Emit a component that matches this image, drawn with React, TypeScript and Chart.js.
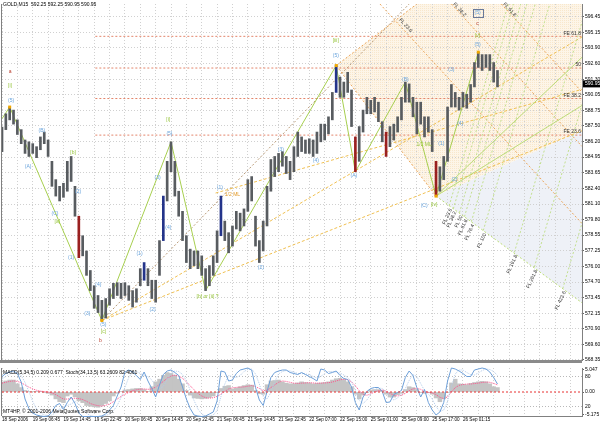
import React, { useEffect, useRef } from 'react';
import { Chart, registerables } from 'chart.js';

Chart.register(...registerables);

// ---------- text ----------
const TITLE = 'GOLD,M15  592.25 592.25 590.95 590.95';
const IND_TITLE = 'MACD(5,34,5) 0.209 0.677  Stoch(34,13,5) 63.2609 82.4061';
const COPYRIGHT = 'MT4HP, \u00A9 2001-2006 MetaQuotes Software Corp.';

// ---------- axes ----------
const X_TICK_LABELS = ['18 Sep 2006', '19 Sep 06:45', '19 Sep 14:45', '19 Sep 22:45', '20 Sep 06:45', '20 Sep 14:45', '20 Sep 22:45', '21 Sep 06:45', '21 Sep 14:45', '21 Sep 22:45', '22 Sep 07:00', '22 Sep 15:00', '25 Sep 01:00', '25 Sep 09:00', '25 Sep 17:00', '26 Sep 01:15'];
const Y_TICKS = [596.45, 595.15, 593.9, 592.6, 591.3, 590.05, 588.75, 587.5, 586.2, 584.95, 583.65, 582.4, 581.1, 579.8, 578.55, 577.25, 576.0, 574.7, 573.45, 572.15, 570.9, 569.6, 568.35];
const MACD_TICKS = [5.047, 0, -5.175];
const STOCH_LEVELS = [80, 20];
const SLOT_COUNT = 152;
const PRICE_MIN = 568.31;
const PRICE_MAX = 597.5;
const LAST_PRICE = 590.95;

// ---------- hourly price ranges (GOLD M15, read per hour) ----------
const BAR_LOW = [
  585.4, 587.2, 588.0, 587.65, 586.8, 586.05, 585.25, 585.0, 585.25, 584.9,
  585.55, 586.05, 585.0, 582.55, 581.75, 581.35, 581.65, 582.15, 582.95, 580.1,
  576.7, 576.85, 575.25, 574.0, 572.55, 572.2, 571.55, 571.75, 572.8, 573.35,
  573.6, 573.35, 573.6, 573.2, 572.65, 573.05, 574.4, 574.85, 574.4, 573.35,
  573.05, 575.25, 578.1, 581.35, 583.75, 581.75, 580.1, 578.1, 576.3, 575.8,
  576.05, 575.8, 575.25, 574.0, 574.4, 575.25, 576.3, 578.5, 578.1, 577.1,
  577.65, 579.05, 578.9, 579.3, 580.5, 581.35, 577.65, 576.3, 577.25, 579.3,
  582.15, 583.35, 583.75, 584.2, 583.6, 583.1, 583.75, 585.0, 585.4, 585.25,
  585.25, 585.0, 585.25, 586.2, 586.35, 586.85, 588.0, 590.25, 589.85, 589.85,
  590.25, 587.45, 583.75, 584.6, 587.0, 588.5, 588.5, 588.65, 587.85, 586.2,
  585.0, 585.8, 586.35, 587.0, 588.0, 589.45, 589.45, 588.25, 586.85, 587.65,
  586.6, 587.0, 585.4, 581.75, 582.15, 583.1, 584.6, 589.05, 589.05, 588.8,
  589.05, 588.95, 589.45, 590.7, 592.3, 592.05, 592.3, 592.05, 591.1, 590.7,
];
const BAR_HIGH = [
  587.4, 588.5, 589.05, 588.8, 588.0, 587.2, 586.35, 586.2, 586.05, 585.8,
  586.6, 587.0, 586.35, 584.6, 583.1, 582.55, 582.8, 584.6, 585.0, 582.55,
  580.1, 578.5, 577.25, 575.65, 574.4, 573.6, 573.2, 573.35, 574.15, 574.6,
  574.65, 574.6, 574.65, 574.4, 574.0, 574.15, 575.8, 576.3, 575.8, 574.85,
  574.85, 578.1, 581.75, 584.6, 586.2, 584.6, 582.15, 580.5, 578.5, 577.4,
  577.25, 577.25, 576.85, 575.8, 576.05, 576.85, 578.9, 581.75, 579.7, 578.75,
  579.3, 580.5, 580.35, 580.7, 583.1, 583.35, 580.1, 578.1, 579.7, 582.55,
  584.75, 585.0, 585.25, 585.4, 585.0, 584.6, 585.8, 587.0, 586.6, 586.35,
  586.45, 586.35, 587.0, 587.65, 587.65, 588.25, 590.25, 592.45, 591.5, 591.1,
  591.9, 590.45, 586.6, 587.45, 588.8, 589.85, 589.6, 589.85, 589.45, 587.85,
  587.0, 587.45, 587.65, 588.25, 589.85, 591.1, 590.95, 589.85, 589.45, 589.45,
  588.25, 588.25, 587.2, 584.6, 584.15, 585.0, 589.05, 590.9, 590.25, 589.85,
  590.25, 590.1, 590.9, 592.7, 593.55, 593.35, 593.35, 593.35, 592.7, 592.05,
];
const BLUE_BARS = [37, 42, 57, 87];
const RED_BARS = [20, 92, 100, 113];

// ---------- indicator ----------
const MACD_HIST = [
  2.28, 2.5, 2.7, 2.7, 1.85, 1.0, 0.35, 0.15, 0.15, 0.15,
  0.15, -0.05, -0.3, -0.7, -1.55, -2.2, -2.4, -0.9, -0.5, -1.1,
  -2.0, -2.4, -3.05, -3.25, -3.35, -3.45, -3.05, -2.6, -2.0, -0.9,
  -0.3, 0.15, 0.45, 0.55, 0.7, 0.8, 0.8, 0.55, 0.15, 1.2,
  2.3, 2.9, 3.75, 4.4, 4.2, 3.8, 2.9, 1.85, 0.35, -0.7,
  -1.35, -1.45, -1.55, -1.45, -1.25, -0.9, -0.05, 0.8, 1.3, 1.45,
  0.7, 0.9, 1.2, 1.45, 1.65, 1.55, 0.35, -0.4, -0.5, 1.65,
  2.5, 2.6, 2.7, 2.3, 2.0, 1.85, 1.85, 2.05, 2.3, 2.15,
  2.05, 1.85, 1.95, 2.05, 2.15, 2.3, 2.7, 3.0, 3.1, 2.8,
  2.3, 1.2, -0.5, -1.55, -0.7, -0.05, 0.45, 0.55, 0.55, 0.35,
  -0.5, -1.15, -1.15, -0.6, -0.3, 0.55, 1.2, 1.0, 0.55, -0.05,
  -0.3, -0.05, -0.5, -1.35, -2.2, -1.55, -0.05, 2.05, 2.9, 1.85,
  1.75, 1.65, 1.95, 2.15, 2.3, 2.4, 2.3, 1.85, 1.2, 1.0,
];
const MACD_SIGNAL = [
  2.0, 2.2, 2.4, 2.5, 2.4, 2.1, 1.6, 1.1, 0.7, 0.4,
  0.2, 0.1, 0.0, -0.2, -0.6, -1.1, -1.6, -1.6, -1.5, -1.4,
  -1.5, -1.7, -2.1, -2.6, -2.9, -3.1, -3.2, -3.0, -2.7, -2.2,
  -1.6, -1.0, -0.5, -0.1, 0.3, 0.5, 0.65, 0.7, 0.6, 0.7,
  1.1, 1.7, 2.4, 3.1, 3.6, 3.8, 3.6, 3.1, 2.3, 1.4,
  0.5, -0.3, -0.9, -1.3, -1.4, -1.3, -1.0, -0.5, 0.1, 0.7,
  0.95, 1.05, 1.1, 1.15, 1.3, 1.45, 1.2, 0.8, 0.3, 0.4,
  1.0, 1.6, 2.2, 2.5, 2.4, 2.2, 2.0, 1.95, 2.0, 2.05,
  2.1, 2.05, 2.0, 2.0, 2.05, 2.1, 2.25, 2.5, 2.75, 2.9,
  2.8, 2.3, 1.4, 0.3, -0.5, -0.75, -0.4, 0.0, 0.3, 0.45,
  0.2, -0.3, -0.75, -0.9, -0.75, -0.3, 0.3, 0.7, 0.85, 0.6,
  0.2, -0.1, -0.2, -0.6, -1.2, -1.5, -1.1, 0.0, 1.0, 1.5,
  1.7, 1.8, 1.8, 1.9, 2.0, 2.15, 2.25, 2.2, 1.95, 1.6,
];
const STOCH_MAIN = [
  80, 86, 89, 91, 86, 69, 35, 16, 7, 3,
  1, 0, 1, 9, 22, 26, 14, 28, 39, 26,
  7, 0, 0, 0, 0, 0, 1, 5, 13, 22,
  41, 59, 89, 93, 89, 82, 74, 89, 71, 56,
  39, 63, 84, 91, 93, 88, 82, 59, 35, 16,
  3, 1, 0, 1, 5, 9, 31, 91, 89, 71,
  73, 86, 93, 95, 97, 93, 58, 33, 22, 50,
  78, 88, 91, 93, 93, 88, 86, 84, 88, 84,
  80, 76, 71, 95, 93, 86, 88, 91, 82, 76,
  74, 59, 28, 13, 39, 50, 56, 58, 58, 50,
  28, 29, 44, 48, 52, 78, 91, 82, 58, 39,
  54, 28, 13, 3, 9, 28, 71, 97, 95, 91,
  86, 80, 80, 93, 95, 97, 95, 89, 78, 65,
];
const STOCH_SIGNAL = [
  75, 80, 85, 88, 88, 82, 68, 50, 30, 15,
  7, 3, 2, 3, 8, 15, 20, 22, 25, 30,
  25, 15, 6, 2, 0, 0, 0, 2, 5, 11,
  22, 38, 58, 78, 89, 90, 86, 82, 80, 73,
  62, 55, 60, 74, 86, 91, 90, 84, 72, 52,
  32, 15, 5, 1, 1, 3, 12, 40, 65, 82,
  80, 78, 82, 90, 94, 95, 85, 65, 40, 35,
  48, 70, 85, 90, 92, 91, 89, 86, 86, 85,
  84, 80, 77, 80, 86, 90, 90, 89, 87, 83,
  78, 70, 52, 32, 26, 33, 45, 53, 57, 56,
  50, 40, 33, 37, 45, 56, 72, 84, 80, 66,
  52, 45, 35, 20, 10, 13, 30, 60, 85, 93,
  93, 88, 84, 83, 87, 92, 95, 94, 90, 82,
];

// ---------- analysis objects (slot index, price) ----------
const WAVE_IDX = [0, 2, 26, 44, 53, 87, 92, 105, 113, 124];
const WAVE_PRICE = [588.1, 589.05, 571.55, 586.2, 574.0, 592.45, 583.75, 591.1, 581.75, 593.55];
const PIVOT_MARKS = [[2, 589.05], [26, 571.55], [87, 592.45], [113, 581.75], [124, 593.55]];
const FE_LEVELS = [594.85, 592.25, 589.75, 586.75];
const FE_NAMES = ['FE 61.8', '50', 'FE 38.2', 'FE 23.6'];
const FE_START = 24.3;
const PEACH_ZONE = [[87, 592.45], [108, 597.5], [151, 597.5], [151, 587.1], [113, 581.75]];
const BLUE_ZONE = [[113, 581.75], [151, 587.1], [151, 573.0]];
const BROWN_SEGS = [[26, 571.55, 106, 597.5]];
const ORANGE_SEGS = [[87, 592.45, 108, 597.5], [87, 592.45, 113, 581.75], [98.4, 597.5, 151, 579.5], [117, 597.5, 151, 585.82], [130, 597.5, 151, 590.28]];
const YELLOW_SEGS = [[55.6, 582.0, 151, 590.5], [26, 571.55, 151, 594.8], [26, 571.55, 151, 587.1]];
const GREEN_FAN_SEGS = [[113, 581.75, 151, 593.13], [113, 581.75, 151, 589.18]];
const GREEN_DOT_SEGS = [[113, 581.75, 151, 573.0]];
const FL_NAMES = ['FL 23.6', 'FL 38.2', 'FL 50', 'FL 61.8', 'FL 76.4', 'FL 100', 'FL 161.8', 'FL 261.8', 'FL 423.6'];
const FL_IDX = [116.4, 117.5, 119.1, 120.4, 122.2, 125.3, 133.4, 138.6, 146.0];
const FL_PRICE = [580.95, 580.71, 580.39, 580.06, 579.66, 578.93, 577.14, 575.93, 574.17];
const TOP_FL = [['FL 23.6', 104.7, 595.63], ['FL 38.2', 118.75, 596.93], ['FL 61.8', 131.8, 596.93]];

const BLUE_LABELS = [
  ['(5)', 2.35, 589.55], ['(A)', 6.8, 584.2], ['(B)', 10.4, 587.12], ['(C)', 13.8, 580.31],
  ['(1)', 18.0, 576.74], ['(2)', 19.8, 582.09], ['(3)', 22.2, 572.11], ['(4)', 25.1, 574.47], ['(5)', 26.4, 571.2],
  ['(1)', 35.8, 577.06], ['(2)', 39.2, 572.44], ['(3)', 40.5, 583.23], ['(4)', 43.3, 579.17], ['(5)', 43.6, 586.88],
  ['(1)', 56.7, 582.41], ['(2)', 67.4, 575.85], ['(3)', 72.6, 585.58], ['(4)', 81.7, 584.69], ['(5)', 86.9, 593.28],
  ['(A)', 91.6, 583.39], ['(B)', 105, 591.34], ['(C)', 109.9, 580.95],
  ['(1)', 114.4, 586.06], ['(2)', 117.8, 583.14], ['(3)', 117, 592.15], ['(4)', 119.3, 587.69], ['(5)', 123.8, 594.17],
];
const GREEN_LABELS = [
  ['[i]', 2.1, 590.77], ['[a]', 14.4, 579.66], ['[b]', 18.5, 585.33], ['[c]', 26.4, 570.6],
  ['[i]', 43.3, 588.01], ['[b] or [ii] ?', 53.5, 573.5], ['[iii]', 86.9, 594.5], ['[iv]', 112.5, 581.04],
  ['[v]', 123.8, 594.9], ['1/2 ML', 109.9, 585.98],
];
const RED_LABELS = [['a', 2.1, 591.98], ['b', 25.6, 569.9], ['c', 123.8, 595.88]];
const ORANGE_LABELS = [['1/2 ML', 60, 581.85]];
const BOXED_LABEL = ['(5)', 123.8, 596.77];

// ---------- helpers ----------
const FAMILY = '"Liberation Sans", Arial, sans-serif';
const FONT5 = `5px ${FAMILY}`;
const SLOTS = Array.from({ length: SLOT_COUNT }, (_, i) => String(i));
const GRID_TICKS = () => Array.from({ length: Math.floor((SLOT_COUNT - 1) / 4) + 1 }, (_, k) => ({ value: k * 4 }));
const RIGHT_SLOT = SLOT_COUNT - 1;

function toPx(chart: any) {
  const xs = chart.scales.x;
  const ys = chart.scales.y;
  return (i: number, p: number) => [xs.getPixelForValue(i), ys.getPixelForValue(p)];
}
function strokePath(ctx: any, pts: number[][], color: string, dash: number[], width = 1) {
  ctx.beginPath();
  ctx.strokeStyle = color;
  ctx.lineWidth = width;
  ctx.setLineDash(dash);
  pts.forEach((pt, k) => (k ? ctx.lineTo(pt[0], pt[1]) : ctx.moveTo(pt[0], pt[1])));
  ctx.stroke();
}
function fillPoly(ctx: any, pts: number[][]) {
  ctx.beginPath();
  pts.forEach((pt, k) => (k ? ctx.lineTo(pt[0], pt[1]) : ctx.moveTo(pt[0], pt[1])));
  ctx.closePath();
  ctx.fill();
}
function clipArea(ctx: any, a: any) {
  ctx.beginPath();
  ctx.rect(a.left, a.top, a.right - a.left, a.bottom - a.top);
  ctx.clip();
}
function peachPattern(ctx: any) {
  const c = document.createElement('canvas');
  c.width = 2;
  c.height = 2;
  const g = c.getContext('2d')!;
  g.fillStyle = '#fdf5e8';
  g.fillRect(0, 0, 2, 2);
  g.fillStyle = '#f8e7cc';
  g.fillRect(0, 0, 1, 1);
  return ctx.createPattern(c, 'repeat');
}

const mainDecor = {
  id: 'mainDecor',
  beforeDraw(chart: any) {
    const { ctx, chartArea: a } = chart;
    const P = toPx(chart);
    ctx.save();
    clipArea(ctx, a);
    ctx.fillStyle = peachPattern(ctx);
    fillPoly(ctx, PEACH_ZONE.map(([i, p]) => P(i, p)));
    ctx.fillStyle = '#eef1f7';
    fillPoly(ctx, BLUE_ZONE.map(([i, p]) => P(i, p)));
    ctx.restore();
  },
  beforeDatasetsDraw(chart: any) {
    const { ctx, chartArea: a } = chart;
    const P = toPx(chart);
    ctx.save();
    clipArea(ctx, a);
    FE_LEVELS.forEach((v) => strokePath(ctx, [P(FE_START, v), P(RIGHT_SLOT, v)], '#e3856b', [2, 2]));
    BROWN_SEGS.forEach((s) => strokePath(ctx, [P(s[0], s[1]), P(s[2], s[3])], '#b99a76', [2, 2]));
    ORANGE_SEGS.forEach((s) => strokePath(ctx, [P(s[0], s[1]), P(s[2], s[3])], '#eca65a', [2, 2]));
    YELLOW_SEGS.forEach((s) => strokePath(ctx, [P(s[0], s[1]), P(s[2], s[3])], '#f0c052', [3, 2]));
    GREEN_FAN_SEGS.forEach((s) => strokePath(ctx, [P(s[0], s[1]), P(s[2], s[3])], '#bcdc78', []));
    GREEN_DOT_SEGS.forEach((s) => strokePath(ctx, [P(s[0], s[1]), P(s[2], s[3])], '#bcdc78', [2, 2]));
    const [ax, ay] = P(WAVE_IDX[8], WAVE_PRICE[8]);
    const [bx, by] = P(WAVE_IDX[9], WAVE_PRICE[9]);
    const dx = bx - ax;
    const dy = by - ay;
    FL_IDX.forEach((i, k) => {
      const [x, y] = P(i, FL_PRICE[k]);
      strokePath(ctx, [[x, y], [x + dx * 3, y + dy * 3]], '#c3e08f', [2, 2]);
    });
    strokePath(ctx, WAVE_IDX.map((i, k) => P(i, WAVE_PRICE[k])), '#a7cf4f', []);
    ctx.restore();
  },
  afterDatasetsDraw(chart: any) {
    const { ctx, chartArea: a } = chart;
    const P = toPx(chart);
    ctx.save();
    ctx.font = FONT5;
    ctx.textBaseline = 'middle';
    ctx.textAlign = 'center';
    ctx.fillStyle = '#f0a800';
    PIVOT_MARKS.forEach(([i, p]) => {
      const [x, y] = P(i, p);
      ctx.fillRect(x - 1.5, y - 1.5, 3, 3);
    });
    const put = (list: any[], color: string) => {
      ctx.fillStyle = color;
      list.forEach(([s, i, p]) => {
        const [x, y] = P(i, p);
        ctx.fillText(s, x, y);
      });
    };
    put(BLUE_LABELS, '#6aa4dc');
    put(GREEN_LABELS, '#96c43a');
    put(RED_LABELS, '#b83a2a');
    put(ORANGE_LABELS, '#e29a2a');
    {
      const [s, i, p] = BOXED_LABEL as any;
      const [x, y] = P(i, p);
      ctx.fillStyle = '#6aa4dc';
      ctx.fillText(s, x, y);
      ctx.strokeStyle = '#6a7a9a';
      ctx.setLineDash([]);
      ctx.lineWidth = 1;
      ctx.strokeRect(Math.round(x - 5) + 0.5, Math.round(y - 4) + 0.5, 10, 8);
    }
    ctx.fillStyle = '#333333';
    ctx.textAlign = 'right';
    FE_LEVELS.forEach((v, k) => {
      const [, y] = P(RIGHT_SLOT, v);
      ctx.fillText(FE_NAMES[k], a.right - 1, y - 3);
    });
    FL_IDX.forEach((i, k) => {
      const [x, y] = P(i, FL_PRICE[k]);
      ctx.save();
      ctx.translate(x, y + 1);
      ctx.rotate((-65 * Math.PI) / 180);
      ctx.textAlign = 'right';
      ctx.textBaseline = 'top';
      ctx.fillText(FL_NAMES[k], -1, 0);
      ctx.restore();
    });
    TOP_FL.forEach(([s, i, p]: any) => {
      const [x, y] = P(i, p);
      ctx.save();
      ctx.translate(x, y);
      ctx.rotate((48 * Math.PI) / 180);
      ctx.textAlign = 'center';
      ctx.fillText(s, 0, -2);
      ctx.restore();
    });
    ctx.restore();
  },
  afterDraw(chart: any) {
    const { ctx, chartArea: a } = chart;
    const ys = chart.scales.y;
    ctx.save();
    ctx.fillStyle = '#8a8a8a';
    ctx.fillRect(0, a.bottom, a.right, 3);
    ctx.fillStyle = '#808080';
    ctx.fillRect(a.left - 1, a.top, 1, a.bottom - a.top);
    ctx.font = FONT5;
    ctx.textBaseline = 'middle';
    ctx.textAlign = 'left';
    ctx.fillStyle = '#000';
    ctx.fillText(TITLE, 3, 5);
    const py = ys.getPixelForValue(LAST_PRICE);
    ctx.fillStyle = '#000';
    ctx.fillRect(a.right + 1, py - 3.5, 600 - a.right - 1, 7);
    ctx.fillStyle = '#fff';
    ctx.fillText(LAST_PRICE.toFixed(2), a.right + 3, py);
    ctx.restore();
  },
};

const indDecor = {
  id: 'indDecor',
  beforeDatasetsDraw(chart: any) {
    const { ctx, chartArea: a } = chart;
    const ss = chart.scales.ys;
    ctx.save();
    STOCH_LEVELS.forEach((v) => {
      const y = ss.getPixelForValue(v);
      strokePath(ctx, [[a.left, y], [a.right, y]], '#b8b8b8', [1, 2]);
    });
    ctx.restore();
  },
  afterDatasetsDraw(chart: any) {
    const { ctx, chartArea: a } = chart;
    const ss = chart.scales.ys;
    const my = chart.scales.y;
    ctx.save();
    const y0 = my.getPixelForValue(0);
    strokePath(ctx, [[a.left, y0], [a.right, y0]], '#e83030', [2, 2]);
    ctx.fillStyle = '#808080';
    ctx.fillRect(a.left - 1, a.top, 1, a.bottom - a.top);
    ctx.font = FONT5;
    ctx.textBaseline = 'middle';
    ctx.textAlign = 'left';
    ctx.fillStyle = '#000';
    ctx.fillText(IND_TITLE, 3, a.top + 5);
    ctx.fillText(COPYRIGHT, 3, a.bottom - 4);
    STOCH_LEVELS.forEach((v) => ctx.fillText(String(v), a.right + 3, ss.getPixelForValue(v)));
    ctx.restore();
  },
};

export default function App() {
  const mainRef = useRef<HTMLCanvasElement>(null);
  const indRef = useRef<HTMLCanvasElement>(null);

  useEffect(() => {
    const candleColors = BAR_LOW.map((_, i) =>
      BLUE_BARS.includes(i) ? '#24348a' : RED_BARS.includes(i) ? '#9a2020' : '#585c60'
    );
    const main = new Chart(mainRef.current!, {
      type: 'bar',
      data: {
        labels: SLOTS,
        datasets: [
          {
            data: BAR_LOW.map((lo, i) => [lo, BAR_HIGH[i]]) as any,
            backgroundColor: candleColors,
            borderWidth: 0,
            barThickness: 2,
          },
        ],
      },
      options: {
        responsive: false,
        animation: false,
        devicePixelRatio: 1,
        layout: { padding: { left: 2, top: 1, right: 0, bottom: 3 } },
        plugins: { legend: { display: false }, tooltip: { enabled: false } },
        scales: {
          x: {
            type: 'category',
            offset: false,
            grid: { color: '#d0d0d0', offset: false, drawTicks: false },
            border: { display: false, dash: [1, 2] },
            ticks: { display: false },
            afterBuildTicks: (s: any) => { s.ticks = GRID_TICKS(); },
            afterFit: (s: any) => { s.height = 0; },
          },
          y: {
            position: 'right',
            min: PRICE_MIN,
            max: PRICE_MAX,
            grid: { color: '#d0d0d0', drawTicks: true, tickLength: 2, tickColor: '#606060' },
            border: { display: true, color: '#808080', dash: [1, 2] },
            ticks: {
              font: { family: FAMILY, size: 5 },
              color: '#000',
              padding: 1,
              autoSkip: false,
              callback: (v: any) => Number(v).toFixed(2),
            },
            afterBuildTicks: (s: any) => { s.ticks = Y_TICKS.map((v) => ({ value: v })); },
            afterFit: (s: any) => { s.width = 18; },
          },
        },
      } as any,
      plugins: [mainDecor],
    });

    const ind = new Chart(indRef.current!, {
      type: 'bar',
      data: {
        labels: SLOTS,
        datasets: [
          { type: 'line', data: STOCH_MAIN, yAxisID: 'ys', borderColor: '#6d9fd8', borderWidth: 1, pointRadius: 0, clip: 4, order: 1 } as any,
          { type: 'line', data: STOCH_SIGNAL, yAxisID: 'ys', borderColor: '#b3cbe9', borderWidth: 1, borderDash: [1, 1], pointRadius: 0, clip: 4, order: 2 } as any,
          { type: 'line', data: MACD_SIGNAL, yAxisID: 'y', borderColor: '#ff4f8a', borderWidth: 1, borderDash: [1, 1], pointRadius: 0, order: 3 } as any,
          { type: 'bar', data: MACD_HIST, yAxisID: 'y', backgroundColor: '#c4c4c4', barPercentage: 1, categoryPercentage: 1, borderWidth: 0, order: 4 } as any,
        ],
      },
      options: {
        responsive: false,
        animation: false,
        devicePixelRatio: 1,
        layout: { padding: { left: 2, top: 1, right: 0, bottom: 0 } },
        plugins: { legend: { display: false }, tooltip: { enabled: false } },
        scales: {
          x: {
            type: 'category',
            offset: false,
            grid: { color: '#d0d0d0', offset: false, drawTicks: false },
            border: { display: true, color: '#808080', dash: [1, 2] },
            ticks: {
              font: { family: FAMILY, size: 4.6 },
              color: '#000',
              align: 'start',
              maxRotation: 0,
              minRotation: 0,
              autoSkip: false,
              padding: 1,
              callback: (v: any) => (v % 8 === 0 ? X_TICK_LABELS[v / 8] ?? '' : ''),
            },
            afterBuildTicks: (s: any) => { s.ticks = GRID_TICKS(); },
            afterFit: (s: any) => { s.height = 8; },
          },
          y: {
            position: 'right',
            min: -5.43,
            max: 5.43,
            grid: { display: true, drawOnChartArea: false, drawTicks: true, tickLength: 2, tickColor: '#606060' },
            border: { display: true, color: '#808080' },
            ticks: {
              font: { family: FAMILY, size: 5 },
              color: '#000',
              padding: 1,
              autoSkip: false,
              callback: (v: any) => (v === 0 ? '0.00' : String(v)),
            },
            afterBuildTicks: (s: any) => { s.ticks = MACD_TICKS.map((v) => ({ value: v })); },
            afterFit: (s: any) => { s.width = 18; },
          },
          ys: { display: false, min: 1, max: 97 },
        },
      } as any,
      plugins: [indDecor],
    });

    return () => {
      main.destroy();
      ind.destroy();
    };
  }, []);

  return (
    <div style={{ position: 'absolute', left: 0, top: 0, width: 600, height: 424, background: '#ffffff', overflow: 'hidden' }}>
      <canvas ref={mainRef} width={600} height={364} style={{ position: 'absolute', left: 0, top: 0 }} />
      <canvas ref={indRef} width={600} height={60} style={{ position: 'absolute', left: 0, top: 364 }} />
    </div>
  );
}
